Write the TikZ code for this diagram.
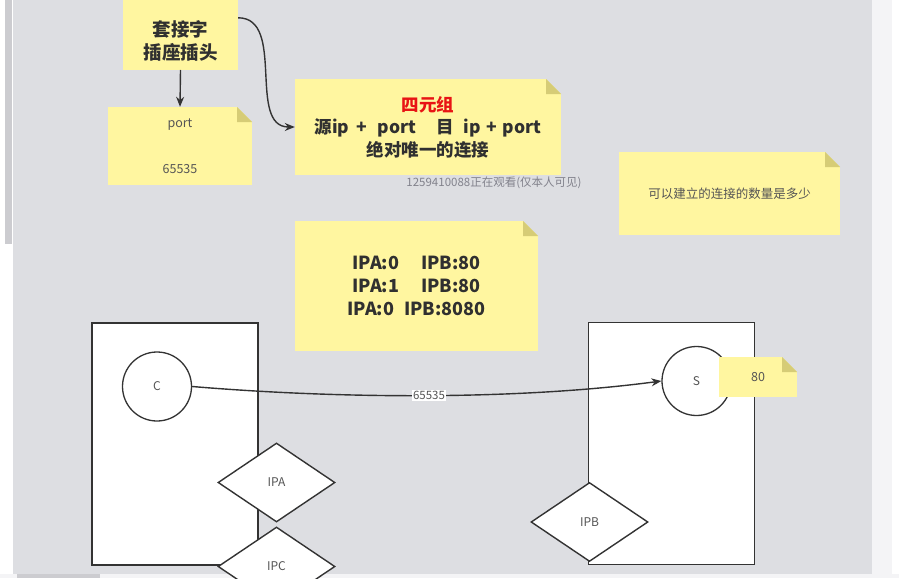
\documentclass[tikz,border=0pt]{standalone}
\usepackage{fontspec}
\setmainfont{Noto Sans CJK SC}
\usepackage{tikz}
\usepackage{xcolor}
\usetikzlibrary{shapes.geometric,arrows.meta}
\definecolor{canvas}{RGB}{221,222,226}
\definecolor{stickyy}{RGB}{255,246,160}
\definecolor{foldy}{RGB}{214,204,118}
\definecolor{inkgray}{RGB}{51,51,51}
\definecolor{txtdark}{RGB}{48,48,48}
\definecolor{txtgray}{RGB}{85,85,85}
\definecolor{quadred}{RGB}{232,20,20}
\definecolor{stripl}{RGB}{244,244,246}
\definecolor{barg}{RGB}{204,204,208}
\definecolor{markg}{RGB}{130,130,140}

\begin{document}
\begin{tikzpicture}[x=1pt,y=-1pt,
        >={Stealth[length=10pt,width=8pt]},
        sticky/.style={fill=stickyy,inner sep=0pt,align=center,
          path picture={
            \fill[canvas] (path picture bounding box.north east) -- ++(-15pt,0pt) -- ++(15pt,-15pt) -- cycle;
            \fill[foldy] ([xshift=-15pt]path picture bounding box.north east) -- ++(0pt,-15pt) -- ++(15pt,0pt) -- cycle;
          }},
        bigtxt/.style={font=\fontsize{18}{23}\selectfont\bfseries,text=txtdark,align=center},
        smalltxt/.style={font=\fontsize{12.5}{15}\selectfont,text=txtgray},
        hostbox/.style={draw=inkgray,line width=1.4pt,fill=white,minimum width=166pt,minimum height=242pt},
        proc/.style={circle,draw=inkgray,line width=1.3pt,fill=white,minimum size=69pt,inner sep=0pt,
          font=\fontsize{12}{14}\selectfont,text=txtgray},
        iface/.style={diamond,draw=inkgray,line width=1.4pt,fill=white,minimum width=117pt,minimum height=79pt,
          inner sep=0pt,font=\fontsize{12}{14}\selectfont,text=txtgray},
        link/.style={draw=inkgray,line width=1.4pt},
        portlbl/.style={fill=white,inner sep=1pt,font=\fontsize{11.5}{13}\selectfont,text=txtgray}]
        \useasboundingbox (0,0) rectangle (899,578);

        % canvas and scroll bars
        \fill[white] (0,0) rectangle (899,578);
        \fill[canvas] (13,0) rectangle (872,574);
        \fill[stripl] (872,0) rectangle (892,574);
        \fill[stripl] (0,574) rectangle (899,578);
        \fill[barg] (5,0) rectangle (12,244);
        \fill[barg] (17,574) rectangle (100,578);

        % socket note
        \node[sticky,minimum width=115pt,minimum height=90pt,anchor=south] (sock) at (180.5,70) {};
        \node[bigtxt,font=\fontsize{18.5}{23}\selectfont\bfseries] (socktxt) at ([yshift=-16pt]sock.center) {套接字\\插座插头};

        % port note
        \node[sticky,smalltxt,minimum width=144pt,minimum height=78pt] (port) at (180,146) {port\\[31pt]65535};

        % four-tuple note
        \node[sticky,bigtxt,font=\fontsize{17.5}{22.5}\selectfont\bfseries,minimum width=266pt,minimum height=96pt] (quad) at (428,127)
          {\textcolor{quadred}{四元组}\\源ip\hspace{7pt}+\hspace{11pt}port\hspace{20pt}目\hspace{10pt}ip\hspace{5pt}+\hspace{6pt}port\\绝对唯一的连接};
        \node[font=\fontsize{11.5}{13}\selectfont,text=markg] (watch) at (494,183) {1259410088正在观看(仅本人可见)};

        % count note
        \node[sticky,smalltxt,minimum width=221pt,minimum height=83pt] (count) at (729.5,193.5) {可以建立的连接的数量是多少};

        % address pairs note
        \node[sticky,bigtxt,minimum width=243pt,minimum height=130pt] (pairs) at (416.5,286)
          {IPA:0\hspace{22pt}IPB:80\\IPA:1\hspace{22pt}IPB:80\\IPA:0\hspace{10pt}IPB:8080};

        % client host
        \node[hostbox] (hostL) at (175,444) {};
        \node[proc] (cli) at (157,386.5) {C};
        \node[iface] (ipa) at (276.5,482.5) {IPA};
        \node[iface] (ipc) at (276.5,566.5) {IPC};

        % server host
        \node[hostbox] (hostR) at (671.5,443.5) {};
        \node[proc] (srv) at (696.5,381) {S};
        \node[sticky,smalltxt,minimum width=78pt,minimum height=40pt] (srvport) at (758,377) {80};
        \node[iface] (ipb) at (589.5,522) {IPB};

        % arrows
        \draw[link,->] (sock.south) -- (port.north);
        \draw[link,->] ([yshift=7pt]sock.east) to[out=0,in=180] (quad.west);
        \draw[link,->] (cli.east) .. controls +(149,12.5) and +(-143,19) .. (srv.west) node[portlbl,pos=0.5] (cport) {65535};
    \end{tikzpicture}
\end{document}
